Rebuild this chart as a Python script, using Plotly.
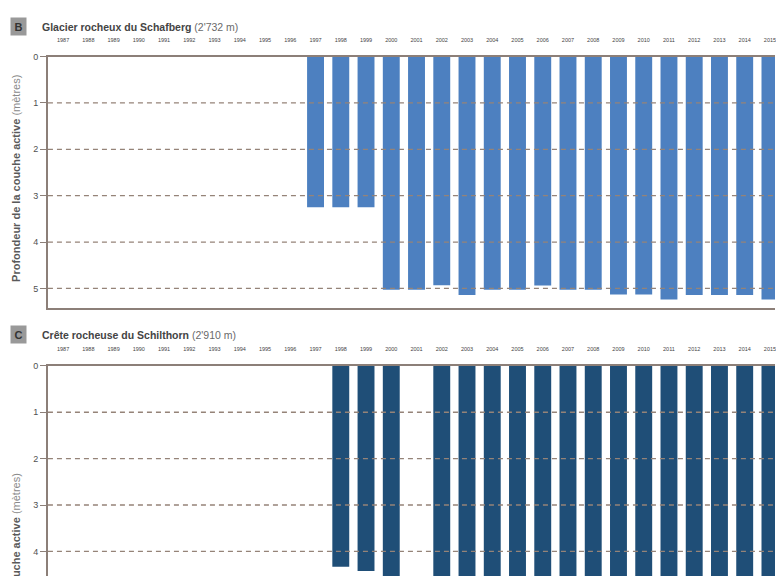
import plotly.graph_objects as go

W, H = 776, 576

years_all = list(range(1987, 2016))

# Panel B : Glacier rocheux du Schafberg
years_b = [1997, 1998, 1999, 2000, 2001, 2002, 2003, 2004, 2005, 2006,
           2007, 2008, 2009, 2010, 2011, 2012, 2013, 2014, 2015]
depth_b = [3.25, 3.25, 3.25, 5.03, 5.03, 4.93, 5.14, 5.03, 5.03, 4.94,
           5.03, 5.03, 5.13, 5.13, 5.24, 5.14, 5.14, 5.14, 5.24]

# Panel C : Crête rocheuse du Schilthorn (values below ~4.5 m are outside the crop)
years_c = [1998, 1999, 2000, 2002, 2003, 2004, 2005, 2006, 2007, 2008,
           2009, 2010, 2011, 2012, 2013, 2014, 2015]
depth_c = [4.33, 4.42, 4.9, 5.0, 5.1, 5.0, 5.0, 5.0, 5.1, 5.0,
           5.0, 5.1, 5.2, 5.1, 5.1, 5.1, 5.2]

depth_ticks = [0, 1, 2, 3, 4, 5]

title_b = "Glacier rocheux du Schafberg"
alt_b = "(2'732 m)"
title_c = "Crête rocheuse du Schilthorn"
alt_c = "(2'910 m)"
ytitle = "<b>Profondeur de la couche active</b> <span style='color:#8a8a8a'>(mètres)</span>"

AX = "#8c7f78"
GRID = "#958378"
TXT = "#505050"

def py(p):
    return 1 - p / H

fig = go.Figure()
fig.add_trace(go.Bar(x=years_b, y=depth_b, base=0, marker_color="#4d80c0",
                     marker_line_width=0, xaxis="x", yaxis="y", showlegend=False))
fig.add_trace(go.Bar(x=years_c, y=depth_c, base=0, marker_color="#1f4e77",
                     marker_line_width=0, xaxis="x2", yaxis="y2", showlegend=False))

xcommon = dict(range=[1986.4, 2015.2], tickvals=years_all, ticktext=[str(y) for y in years_all],
               side="top", ticks="", showgrid=False, zeroline=False,
               tickfont=dict(size=5.5, color="#444444", family="Liberation Sans"),
               showline=True, linecolor=AX, linewidth=1.5, ticklabelstandoff=11,
               ticklabeloverflow="allow")
ycommon = dict(tickvals=depth_ticks, ticks="outside", ticklen=6, tickcolor=AX,
               tickwidth=1, showgrid=False, zeroline=False, showline=True,
               linecolor=AX, linewidth=1.5,
               tickfont=dict(size=9, color=TXT, family="Liberation Sans"))

fig.update_layout(
    width=W, height=H, margin=dict(l=0, r=0, t=0, b=0),
    paper_bgcolor="white", plot_bgcolor="white", bargap=0.33,
    xaxis=dict(domain=[48 / W, 1], anchor="y", mirror=True, **xcommon),
    yaxis=dict(domain=[py(306), py(52)], anchor="x", range=[5.43, 0], **ycommon),
    xaxis2=dict(domain=[48 / W, 1], anchor="y2", **xcommon),
    yaxis2=dict(domain=[0, py(364)], anchor="x2", range=[4.53, 0], **ycommon),
    font=dict(family="Liberation Sans"),
)

shapes = []
for t in depth_ticks[1:]:
    shapes.append(dict(type="line", xref="x domain", yref="y", x0=0, x1=1, y0=t, y1=t,
                       line=dict(color=GRID, width=1.3, dash="5px,4px"), layer="above"))
for t in depth_ticks[1:5]:
    shapes.append(dict(type="line", xref="x2 domain", yref="y2", x0=0, x1=1, y0=t, y1=t,
                       line=dict(color=GRID, width=1.3, dash="5px,4px"), layer="above"))
fig.update_layout(shapes=shapes)

ann = []
for letter, ttl, alt, yc, yt in [("B", title_b, alt_b, 21.5, 68), ("C", title_c, alt_c, 332, 470)]:
    ann.append(dict(xref="paper", yref="paper", x=19 / W, y=py(yc), text="<b>" + letter + "</b>",
                    showarrow=False, bgcolor="#999999", width=13, height=15,
                    font=dict(size=11, color="#333333", family="Liberation Sans"),
                    xanchor="center", yanchor="middle"))
    ann.append(dict(xref="paper", yref="paper", x=40 / W, y=py(yc + 1), showarrow=False,
                    text="<b>" + ttl + "</b> <span style='color:#6a6a6a'>" + alt + "</span>",
                    font=dict(size=10.5, color="#444444", family="Liberation Sans"),
                    xanchor="left", yanchor="middle"))
    ann.append(dict(xref="paper", yref="paper", x=16 / W, y=py(yt), showarrow=False,
                    text=ytitle, textangle=-90,
                    font=dict(size=11, color="#5a5a5a", family="Liberation Sans"),
                    xanchor="center", yanchor="top"))
fig.update_layout(annotations=ann)

fig.write_html("out.html")
